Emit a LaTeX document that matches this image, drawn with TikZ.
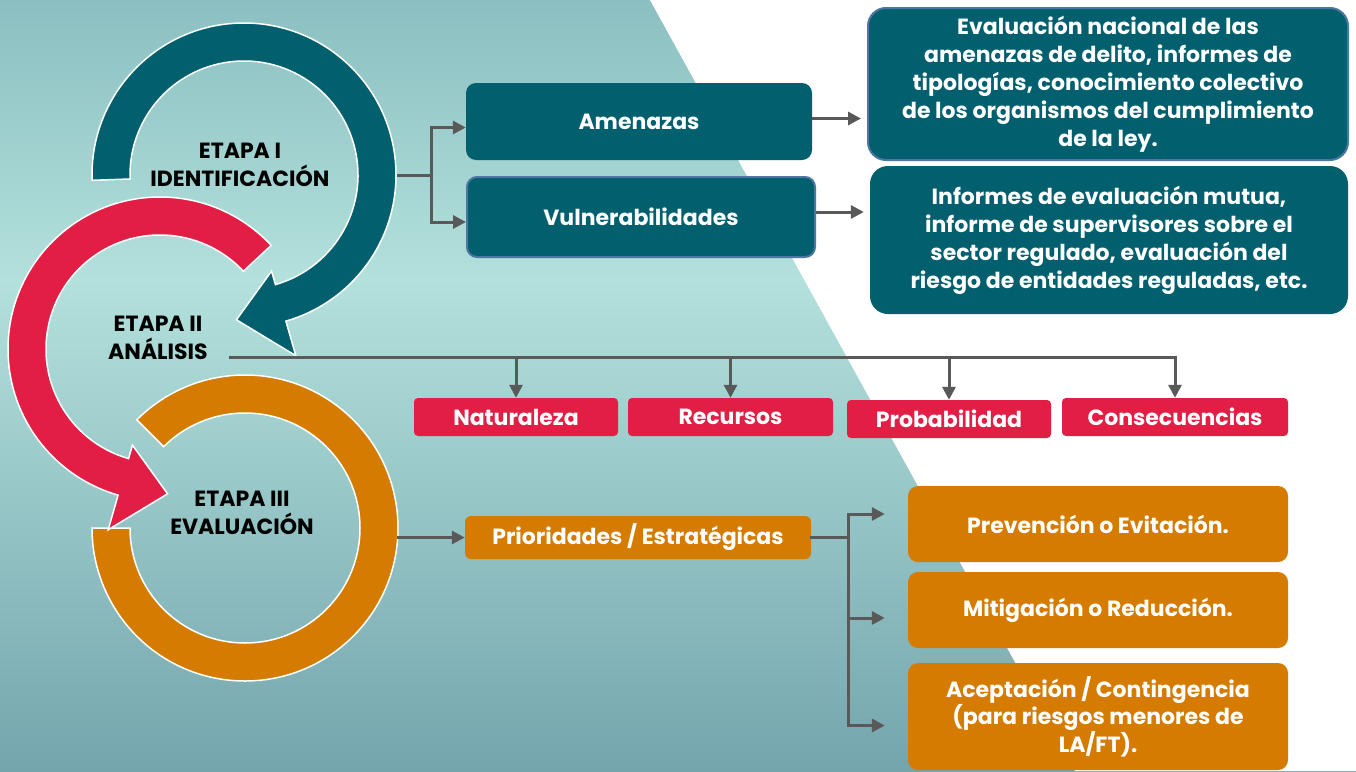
\documentclass[tikz,border=0pt]{standalone}
\usepackage{fontspec}
\setmainfont{Poppins}
\usetikzlibrary{arrows.meta,calc}

\definecolor{tealA}{HTML}{025F6E}
\definecolor{redB}{HTML}{E21E45}
\definecolor{orangeC}{HTML}{D47B00}
\definecolor{lineGray}{HTML}{595959}
\definecolor{bgTop}{HTML}{8BBFC1}
\definecolor{bgMid}{HTML}{B3E1DC}
\definecolor{bgBot}{HTML}{74A5AD}
\definecolor{edgeBlue}{HTML}{4D76A0}

\tikzset{
    conn/.style={draw=lineGray, line width=3pt, -{Triangle[length=13pt,width=13pt]}},
    bar/.style={draw=lineGray, line width=3pt, line cap=rect},
    ring/.style={draw=white, line width=1.5pt},
    etapa/.style={align=center, inner sep=0pt, text=black, font=\bfseries\fontsize{22}{28}\selectfont},
    box/.style={rounded corners=10pt, text=white, align=center, inner sep=0pt, font=\bfseries\fontsize{22}{27.5}\selectfont},
    bigbox/.style={box, fill=tealA, rounded corners=18pt, font=\bfseries\fontsize{22}{28}\selectfont},
    redbox/.style={box, fill=redB, rounded corners=4pt, minimum height=38pt},
    orbox/.style={box, fill=orangeC, minimum width=380pt},
}

\begin{document}
\begin{tikzpicture}[x=1pt,y=-1pt]
    \useasboundingbox (0,0) rectangle (1356,771);
    % fondo
    \shade[top color=bgTop, bottom color=bgMid] (0,0) rectangle (1356,280);
    \shade[top color=bgMid, bottom color=bgBot] (0,279) rectangle (1356,771);
    \fill[white] (650,0) -- (1356,0) -- (1356,771) -- (1075,771) -- cycle;

    % anillos
    \coordinate (cI) at (244,175);
    \coordinate (cII) at (160,349);
    \coordinate (cIII) at (245,528);
    \filldraw[ring, fill=orangeC] ($(cIII)+(-135:153)$) arc[start angle=-135, end angle=180, radius=153]
        -- ($(cIII)+(180:115)$) arc[start angle=180, end angle=-135, radius=115] -- cycle;
    \filldraw[ring, fill=tealA] ($(cI)+(-182:152)$) arc[start angle=-182, end angle=74, radius=152]
        -- ($(cI)+(74:188)$) -- ($(cI)+(93:145)$) -- ($(cI)+(74:100)$)
        -- ($(cI)+(74:114)$) arc[start angle=74, end angle=-182, radius=114] -- cycle;
    \filldraw[ring, fill=redB] ($(cII)+(-43:152)$) arc[start angle=-43, end angle=-254, radius=152]
        -- ($(cII)+(-254:188)$) -- ($(cII)+(-273:145)$) -- ($(cII)+(-254:100)$)
        -- ($(cII)+(-254:114)$) arc[start angle=-254, end angle=-43, radius=114] -- cycle;

    \node[etapa] (etI) at (240,165) {ETAPA I\\IDENTIFICACIÓN};
    \node[etapa] (etII) at (158,338) {ETAPA II\\ANÁLISIS};
    \node[etapa] (etIII) at (242,513) {ETAPA III\\EVALUACIÓN};

    % etapa I
    \node[box, fill=tealA, minimum width=346pt, minimum height=77pt] (amen) at (639,121.5) {Amenazas};
    \node[box, fill=tealA, draw=edgeBlue, line width=2pt, minimum width=348pt, minimum height=80pt] (vuln) at (641,217) {Vulnerabilidades};
    \node[bigbox, draw=edgeBlue, line width=2pt, minimum width=480pt, minimum height=152pt] (info1) at (1108,84)
        {Evaluación nacional de las\\amenazas de delito, informes de\\tipologías, conocimiento colectivo\\de los organismos del cumplimiento\\de la ley.};
    \node[bigbox, minimum width=478pt, minimum height=148pt] (info2) at (1109,240)
        {Informes de evaluación mutua,\\informe de supervisores sobre el\\sector regulado, evaluación del\\riesgo de entidades reguladas, etc.};

    % etapa II
    \node[redbox, minimum width=204pt] (nat) at (516,417) {Naturaleza};
    \node[redbox, minimum width=205pt] (rec) at (730.5,417) {Recursos};
    \node[redbox, minimum width=204pt] (prob) at (949,419) {Probabilidad};
    \node[redbox, minimum width=226pt] (cons) at (1175,417) {Consecuencias};

    % etapa III
    \node[box, fill=orangeC, rounded corners=6pt, minimum width=346pt, minimum height=43pt] (prior) at (638,537.5) {Prioridades / Estratégicas};
    \node[orbox, minimum height=76pt] (prev) at (1098,524) {Prevención o Evitación.};
    \node[orbox, minimum height=76pt] (mitig) at (1098,610) {Mitigación o Reducción.};
    \node[orbox, minimum height=107pt] (acept) at (1098,716.5) {Aceptación / Contingencia\\(para riesgos menores de\\LA/FT).};

    % conectores
    \coordinate (outI) at (397,175);
    \coordinate (forkI) at (431,175);
    \coordinate (outII) at (230,357);
    \coordinate (outIII) at (397,537.5);
    \coordinate (forkIII) at (848,537.5);

    \draw[conn] (outI) -- (forkI) |- ([yshift=-6pt]amen.west);
    \draw[conn] (forkI) |- ([yshift=-5pt]vuln.west);
    \draw[conn, shorten >=6pt] ([yshift=3pt]amen.east) -- ([yshift=3pt]amen.east -| info1.west);
    \draw[conn, shorten >=6pt] ([yshift=5pt]vuln.east) -- ([yshift=5pt]vuln.east -| info2.west);

    \draw[bar] (outII) -- (outII -| cons.north);
    \foreach \b in {nat,rec,prob,cons}
        \draw[conn] (outII -| \b.north) -- (\b.north);

    \draw[conn] (outIII) -- (prior.west);
    \draw[bar] (prior.east) -- (forkIII);
    \draw[conn, shorten >=23pt] (forkIII) |- ([yshift=10pt]prev.west);
    \draw[conn, shorten >=23pt] (forkIII) |- ([yshift=-8pt]mitig.west);
    \draw[conn, shorten >=23pt] (forkIII) |- ([yshift=-9pt]acept.west);
\end{tikzpicture}
\end{document}
